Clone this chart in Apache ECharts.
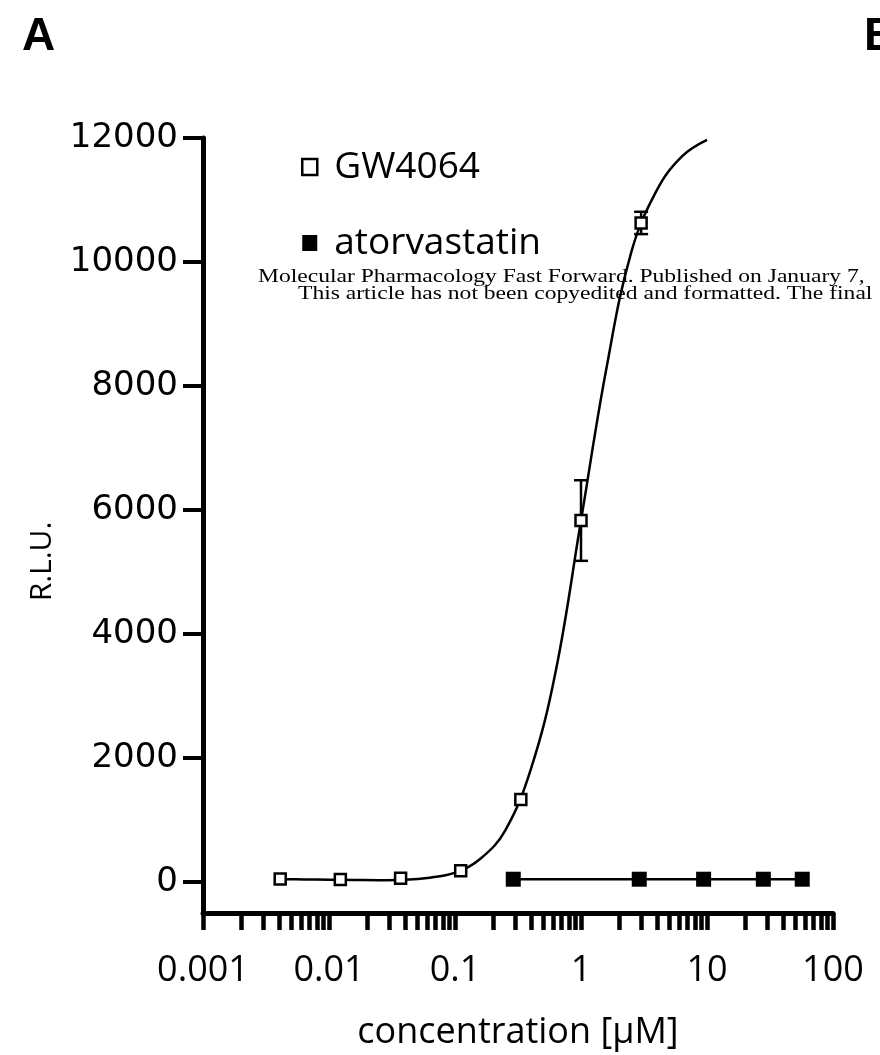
<!DOCTYPE html>
<html>
<head>
<meta charset="utf-8">
<script src="https://cdn.jsdelivr.net/npm/echarts@6/dist/echarts.min.js"></script>
<style>
  html, body { margin: 0; padding: 0; background: #fff; }
  #chart { width: 880px; height: 1055px; }
</style>
</head>
<body>
<div id="chart"></div>
<script>
// ---- data ----
const xTickValues = [0.001, 0.01, 0.1, 1, 10, 100];
const xTickLabels = ['0.001', '0.01', '0.1', '1', '10', '100'];
const yTickValues = [0, 2000, 4000, 6000, 8000, 10000, 12000];

const gwConc = [0.0041, 0.0123, 0.037, 0.111, 0.333, 1, 3];
const gwRLU  = [50, 40, 60, 180, 1330, 5830, 10630];
const gwSD   = [0, 0, 0, 0, 0, 650, 180];

const atorConc = [0.29, 2.9, 9.4, 28, 57];
const atorRLU  = [45, 45, 45, 45, 45];

const fitConc = [0.0041, 0.0063, 0.01, 0.016, 0.025, 0.04, 0.063, 0.1, 0.16, 0.25, 0.4, 0.63, 1.0, 1.58, 2.5, 3.98, 6.3, 10];
const fitRLU  = [45, 42, 38, 32, 28, 35, 70, 150, 380, 830, 1820, 3400, 5830, 8250, 10150, 11150, 11700, 11970];

const watermark1 = 'Molecular Pharmacology Fast Forward. Published on January 7,';
const watermark2 = 'This article has not been copyedited and formatted. The final';

// ---- build ----
const lg = v => Math.log10(v);
const minorTicks = [];
for (let d = -3; d <= 1; d++) {
  for (let k = 1; k <= 9; k++) minorTicks.push(lg(k) + d);
}
minorTicks.push(2);

const chart = echarts.init(document.getElementById('chart'), null, { renderer: 'canvas' });

const option = {
  animation: false,
  backgroundColor: '#fff',
  grid: { left: 203, right: 47, top: 138, bottom: 142, containLabel: false, outerBoundsMode: 'none' },
  xAxis: {
    type: 'value',
    min: -3, max: 2, interval: 1,
    name: 'concentration [µM]',
    nameLocation: 'middle',
    nameGap: 102,
    nameTextStyle: { fontFamily: 'Open Sans', fontSize: 36, color: '#000' },
    axisLine: { onZero: false, lineStyle: { color: '#000', width: 5 } },
    axisTick: { show: true, customValues: minorTicks, length: 17, lineStyle: { color: '#000', width: 4.5 } },
    axisLabel: {
      customValues: xTickValues.map(lg),
      formatter: v => { const i = xTickValues.findIndex(t => Math.abs(lg(t) - v) < 1e-6); return i >= 0 ? xTickLabels[i] : ''; },
      fontFamily: 'Open Sans', fontSize: 36, color: '#000', margin: 40
    },
    splitLine: { show: false }
  },
  yAxis: {
    type: 'value',
    min: -500, max: 12000,
    name: 'R.L.U.',
    nameLocation: 'middle',
    nameRotate: 90,
    nameGap: 146,
    nameTextStyle: { fontFamily: 'Open Sans', fontSize: 30, color: '#000', padding: [0, 72, 0, 0] },
    axisLine: { onZero: false, lineStyle: { color: '#000', width: 5 } },
    axisTick: { show: true, customValues: yTickValues, length: 20, lineStyle: { color: '#000', width: 4 } },
    axisLabel: { customValues: yTickValues, formatter: v => String(v), fontFamily: 'DejaVu Sans', fontSize: 34, color: '#000', margin: 25 },
    splitLine: { show: false }
  },
  legend: {
    data: [
      { name: 'GW4064', icon: 'rect', itemStyle: { color: '#fff', borderColor: '#000', borderWidth: 2.5 } },
      { name: 'atorvastatin', icon: 'rect', itemStyle: { color: '#000', borderWidth: 0 } }
    ],
    orient: 'vertical',
    left: 296, top: 142,
    itemWidth: 15, itemHeight: 16, itemGap: 36,
    selectedMode: false,
    textStyle: { fontFamily: 'Open Sans', fontSize: 37, color: '#000', lineHeight: 40, padding: [0, 0, 0, 12] }
  },
  graphic: [
    { type: 'text', left: 22, top: 14, style: { text: 'A', font: 'bold 46px "Liberation Sans"', fill: '#000' } },
    { type: 'text', x: 864, y: 14, style: { text: 'B', font: 'bold 46px "Liberation Sans"', fill: '#000' } },
    { type: 'text', x: 258, y: 277, scaleX: 1.24, style: { text: watermark1, font: '19px "Liberation Serif"', fill: '#000', verticalAlign: 'middle' } },
    { type: 'text', x: 298, y: 294, scaleX: 1.24, style: { text: watermark2, font: '19px "Liberation Serif"', fill: '#000', verticalAlign: 'middle' } }
  ],
  series: [
    {
      name: 'fit', type: 'line', smooth: 0.4, showSymbol: false, silent: true, z: 2,
      data: fitConc.map((c, i) => [lg(c), fitRLU[i]]),
      lineStyle: { color: '#000', width: 2.5 }
    },
    {
      name: 'err', type: 'custom', z: 3,
      data: gwConc.map((c, i) => [lg(c), gwRLU[i] - gwSD[i], gwRLU[i] + gwSD[i]]).filter((d, i) => gwSD[i] > 0),
      renderItem: (params, api) => {
        const lo = api.coord([api.value(0), api.value(1)]);
        const hi = api.coord([api.value(0), api.value(2)]);
        const w = 7;
        const st = { stroke: '#000', lineWidth: 2.5 };
        return { type: 'group', children: [
          { type: 'line', shape: { x1: lo[0], y1: lo[1], x2: hi[0], y2: hi[1] }, style: st },
          { type: 'line', shape: { x1: lo[0] - w, y1: lo[1], x2: lo[0] + w, y2: lo[1] }, style: st },
          { type: 'line', shape: { x1: hi[0] - w, y1: hi[1], x2: hi[0] + w, y2: hi[1] }, style: st }
        ] };
      }
    },
    {
      name: 'GW4064', type: 'scatter', symbol: 'rect', symbolSize: 11, z: 4,
      data: gwConc.map((c, i) => [lg(c), gwRLU[i]]),
      itemStyle: { color: '#fff', borderColor: '#000', borderWidth: 2.5, opacity: 1 }
    },
    {
      name: 'atorvastatin', type: 'line', symbol: 'rect', symbolSize: 15, showSymbol: true, z: 4,
      data: atorConc.map((c, i) => [lg(c), atorRLU[i]]),
      lineStyle: { color: '#000', width: 2.5 },
      itemStyle: { color: '#000', borderWidth: 0 }
    }
  ]
};
chart.setOption(option);
</script>
</body>
</html>
